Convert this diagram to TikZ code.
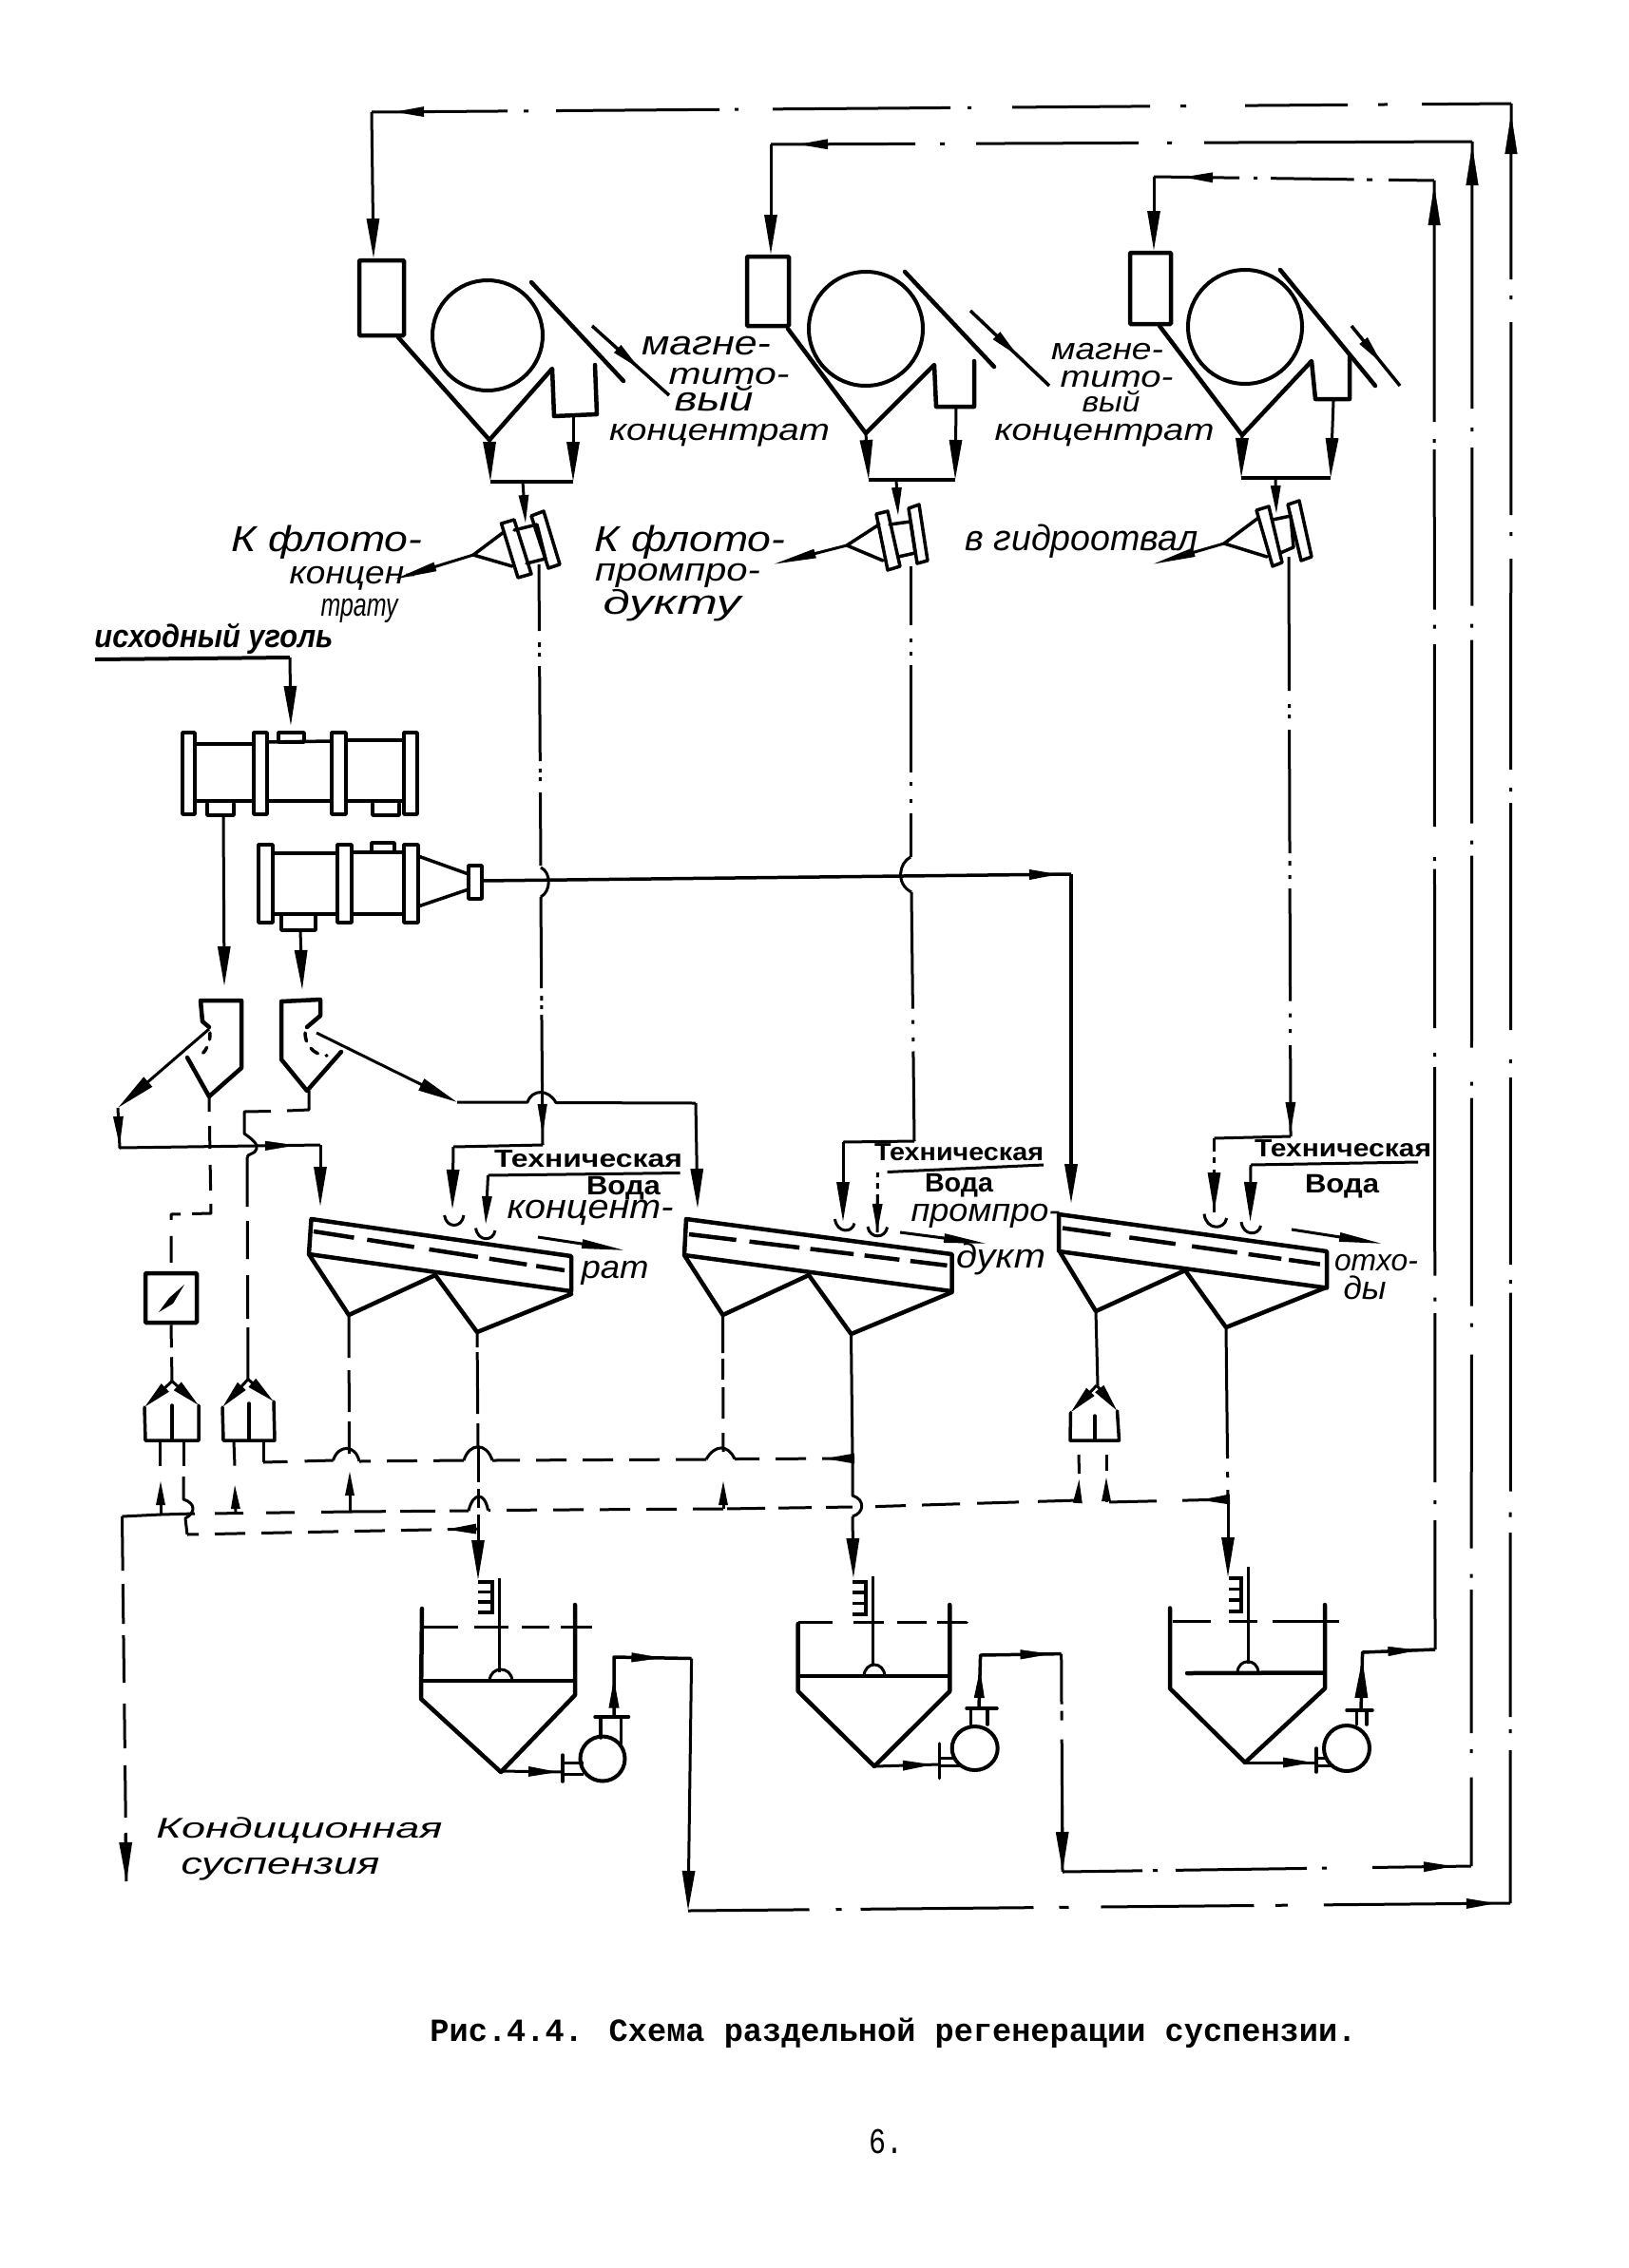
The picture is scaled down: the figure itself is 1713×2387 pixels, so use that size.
\documentclass[tikz,border=0pt]{standalone}
\usepackage{fontspec}
\usepackage{graphicx}
\setmainfont{Liberation Sans}
\newfontfamily\capf{Liberation Mono}
\usetikzlibrary{arrows.meta,decorations.markings,shapes.geometric}
\tikzset{
 eq/.style={line width=4.5pt,line join=round,line cap=round},
 eqt/.style={line width=3.5pt,line join=round,line cap=round},
 ln/.style={line width=3pt,line join=round},
 eqbox/.style={draw,line width=4.5pt,inner sep=0pt,rounded corners=1pt},
 eqcirc/.style={draw,circle,line width=4pt,inner sep=0pt},
 hL/.style={-{Stealth[inset=0pt,length=42pt,width=13pt]}},
 hM/.style={-{Stealth[inset=0pt,length=30pt,width=10pt]}},
 hS/.style={-{Stealth[inset=0pt,length=26pt,width=9pt]}},
 hT/.style={-{Stealth[inset=0pt,length=46pt,width=9pt]}},
 amk/.style={postaction={decorate,decoration={markings,mark=at position #1 with {\arrow{Stealth[inset=0pt,length=32pt,width=10pt]}}}}},
 amL/.style={postaction={decorate,decoration={markings,mark=at position #1 with {\arrow{Stealth[inset=0pt,length=42pt,width=13pt]}}}}},
 dsh2/.style={dash pattern=on 32pt off 17pt},
 txt/.style={inner sep=0pt,anchor=base},
}
% name, x centre, y centre of the x-height band, width, font size, text
\newcommand\hlabel[6]{\node[txt] (#1) at (#2,{#3+0.26*#5}) {\resizebox{#4pt}{\height}{\fontsize{#5pt}{#5pt}\selectfont\itshape #6}};}
\newcommand\blabel[6]{\node[txt] (#1) at (#2,{#3+0.26*#5}) {\resizebox{#4pt}{\height}{\fontsize{#5pt}{#5pt}\selectfont\bfseries #6}};}
\newcommand\rakecomb[4]{% x, ytop, ybottom, xleft
 \draw[line width=3.5pt,line join=miter] (#4,#2) -- (#1,#2) -- (#1,#3) -- (#4,#3);
 \foreach \ff in {0.33,0.66}{\draw[line width=3.5pt] (#4,{#2+(#3-#2)*\ff}) -- (#1,{#2+(#3-#2)*\ff});}
}
\begin{document}
\begin{tikzpicture}[x=1pt,y=-1pt]
\useasboundingbox[fill=white] (0,0) rectangle (1713,2387);
%%% ---------- return lines at the top and right
\coordinate (P3) at (1590,109); \coordinate (P2) at (1549,149); \coordinate (P1) at (1509,190);
\coordinate (T1) at (391,118);  \coordinate (T2) at (811,152);  \coordinate (T3) at (1214,186);
\coordinate (Q3) at (1589,2003); \coordinate (Q2) at (1548,1964); \coordinate (Q1) at (1510,1736);
\draw[ln,dash pattern=on 94pt off 36pt on 10pt off 32pt on 108pt off 62pt on 6pt off 32pt on 145pt off 43pt on 4pt off 18pt on 187pt off 36pt on 4pt off 16pt on 172pt off 29pt on 5pt off 17pt on 143pt,amk=1176pt] (P3) -- (T1);
\draw[ln,dash pattern=on 282pt off 34pt on 5pt off 30pt on 171pt off 33pt on 5pt off 26pt on 152pt,amk=710pt] (P2) -- (T2);
\draw[ln,dash pattern=on 48pt off 17pt on 6pt off 13.5pt on 87.5pt off 14pt on 4pt off 15pt on 90pt,amk=265pt] (P1) -- (T3);
\draw[ln,dash pattern=on 185pt off 17pt on 4pt off 24pt on 203pt off 18pt on 4pt off 24pt on 222pt off 19pt on 4pt off 12pt on 239pt off 31pt on 4pt off 15pt on 197pt off 16pt on 4pt off 9.5pt on 209pt off 22pt on 5pt off 16.5pt on 194pt off 13pt on 4pt off 18pt on 161pt] (P3) -- (Q3);
\draw[ln,dash pattern=on 281pt off 20pt on 4pt off 17pt on 166.5pt off 19pt on 4pt off 13pt on 193pt off 18pt on 4pt off 12pt on 202pt off 36pt on 4pt off 13pt on 219pt off 18pt on 4pt off 29pt on 204pt off 27pt on 4pt off 12.6pt on 151pt off 17pt on 4pt off 25.5pt on 94pt] (P2) -- (Q2);
\draw[ln,dash pattern=on 254pt off 18pt on 4pt off 7pt on 168.5pt off 16pt on 4pt off 16.5pt on 192pt off 32pt on 4pt off 8.6pt on 167.4pt off 26pt on 4pt off 11pt on 219.6pt off 23pt on 4pt off 12.4pt on 178pt off 19pt on 4pt off 17pt on 137.6pt] (P1) -- (Q1);
% up arrows near the top corners
\path[amL=1883pt] (Q3) -- (P3);
\path[amL=1811pt] (Q2) -- (P2);
\path[amL=1541pt] (Q1) -- (P1);
%%% ---------- magnetic separator 1
\coordinate (a1) at (393,272); \coordinate (f1a) at (419,355); \coordinate (f1b) at (515,463);
\coordinate (f1c) at (581,388); \coordinate (f1d) at (583,438); \coordinate (f1e) at (628,436); \coordinate (f1f) at (626,384);
\coordinate (s1a) at (516,507); \coordinate (s1b) at (603,507); \coordinate (s1c) at (603,437);
\coordinate (s1d) at (550,507); \coordinate (s1e) at (553,551);
\node[eqbox,minimum width=47pt,minimum height=79pt] (box1) at (401.5,313.5) {};
\node[eqcirc,minimum size=116pt] (drum1) at (513,353) {};
\draw[ln,hL] (T1) -- (a1);
\draw[eq] (f1a) -- (f1b) -- (f1c) -- (f1d) -- (f1e) -- (f1f);
\draw[eq] (559,297) -- (656,401);
\draw[ln,line width=3.5pt,amk=68pt] (623,343) -- (704,416);
\draw[ln,line width=3.5pt] (s1a) -- (s1b);
\draw[ln,hL] (f1b) -- (s1a);
\draw[ln,hL] (s1c) -- (s1b);
\draw[ln,hM] (s1d) -- (s1e);
\draw[eqt] (527.5,551) -- (541,547) -- (559,604) -- (545,608) -- cycle;
\draw[eqt] (559,543) -- (572,538) -- (589,594) -- (577,598) -- cycle;
\draw[eqt] (541,558) -- (565,552) -- (574,588) -- (554,593);
\draw[eqt] (530,560) -- (498,584) -- (539,596);
\coordinate (k1) at (498,584); \coordinate (k1e) at (414,610);
\draw[ln,hT] (k1) -- (k1e);
%%% ---------- magnetic separator 2
\coordinate (a2) at (811,268); \coordinate (f2a) at (829,346); \coordinate (f2b) at (911,456);
\coordinate (f2c) at (983,384); \coordinate (f2d) at (985,428); \coordinate (f2e) at (1025,428); \coordinate (f2f) at (1025,380);
\coordinate (s2a) at (914,505); \coordinate (s2b) at (1005,505); \coordinate (s2c) at (1006,428);
\coordinate (s2d) at (943,505); \coordinate (s2e) at (945,543);
\node[eqbox,minimum width=44pt,minimum height=73pt] (box2) at (808,306.5) {};
\node[eqcirc,minimum size=120pt] (drum2) at (911,346) {};
\draw[ln,hL] (T2) -- (a2);
\draw[eq] (f2a) -- (f2b) -- (f2c) -- (f2d) -- (f2e) -- (f2f);
\draw[eq] (952,286) -- (1046,386);
\draw[ln,line width=3.5pt,amk=70pt] (1021,327) -- (1104,406);
\draw[ln,line width=3.5pt] (s2a) -- (s2b);
\draw[ln,hL] (f2b) -- (s2a);
\draw[ln,hL] (s2c) -- (s2b);
\draw[ln,hM] (s2d) -- (s2e);
\draw[eqt] (922,541) -- (934,538) -- (947,596) -- (934,600) -- cycle;
\draw[eqt] (956,535) -- (967,531) -- (976,590) -- (965,593) -- cycle;
\draw[eqt] (936,552) -- (958,549) -- (963,582) -- (945,586);
\draw[eqt] (925,552) -- (891,574) -- (929,590);
\coordinate (k2) at (891,574); \coordinate (k2e) at (813,594);
\draw[ln,hT] (k2) -- (k2e);
%%% ---------- magnetic separator 3
\coordinate (a3) at (1214,264); \coordinate (f3a) at (1220,343); \coordinate (f3b) at (1307,458);
\coordinate (f3c) at (1380,380); \coordinate (f3d) at (1384,420); \coordinate (f3e) at (1420,420); \coordinate (f3f) at (1420,375);
\coordinate (s3a) at (1306,503); \coordinate (s3b) at (1400,503); \coordinate (s3c) at (1403,422);
\coordinate (s3d) at (1342,503); \coordinate (s3e) at (1343,541);
\node[eqbox,minimum width=43pt,minimum height=75pt] (box3) at (1210.5,303.5) {};
\node[eqcirc,minimum size=120pt] (drum3) at (1310,344) {};
\draw[ln,hL] (T3) -- (a3);
\draw[eq] (f3a) -- (f3b) -- (f3c) -- (f3d) -- (f3e) -- (f3f);
\draw[eq] (1347,284) -- (1447,406);
\draw[ln,line width=3.5pt,amk=52pt] (1422,343) -- (1473,406);
\draw[ln,line width=3.5pt] (s3a) -- (s3b);
\draw[ln,hL] (f3b) -- (s3a);
\draw[ln,hL] (s3c) -- (s3b);
\draw[ln,hM] (s3d) -- (s3e);
\draw[eqt] (1322,537) -- (1335,533) -- (1349,592) -- (1339,596) -- cycle;
\draw[eqt] (1355,531) -- (1367,527) -- (1380,586) -- (1369,590) -- cycle;
\draw[eqt] (1339,547) -- (1358,543) -- (1361,576) -- (1347,582);
\draw[eqt] (1324,545) -- (1288,572) -- (1333,586);
\coordinate (k3) at (1288,572); \coordinate (k3e) at (1212,594);
\draw[ln,hT] (k3) -- (k3e);
%%% ---------- labels top
\hlabel{m1a}{743}{364}{136}{36}{магне-}
\hlabel{m1b}{767}{396}{127}{32}{тито-}
\hlabel{m1c}{751}{423}{83}{36}{вый}
\hlabel{m1d}{757}{455}{232}{32}{концентрат}
\hlabel{m2a}{1165}{370}{118}{32}{магне-}
\hlabel{m2b}{1175}{399}{119}{32}{тито-}
\hlabel{m2c}{1169}{426}{61}{30}{вый}
\hlabel{m2d}{1162}{455}{231}{32}{концентрат}
\hlabel{l1a}{344}{571}{201}{38}{К флото-}
\hlabel{l1b}{371}{606}{133}{34}{концен-}
\hlabel{l1c}{378}{640}{81}{34}{трату}
\hlabel{l2a}{726}{571}{201}{38}{К флото-}
\hlabel{l2b}{713}{603}{174}{34}{промпро-}
\hlabel{l2c}{707}{637}{145}{36}{дукту}
\hlabel{l3a}{1138}{570}{245}{38}{в гидроотвал}
%%% ---------- feed and mills
\node[txt] (feed) at (225,681) {\resizebox{251pt}{\height}{\fontsize{34pt}{34pt}\selectfont\bfseries\itshape исходный уголь}};
\coordinate (fd0) at (100,694); \coordinate (fd1) at (305,692); \coordinate (fd2) at (306,764);
\draw[ln,line width=4pt] (fd0) -- (fd1);
\draw[ln,hL] (fd1) -- (fd2);
% mill 1
\foreach \xa/\xb in {192/205,267/281,349/364,425/439}{\draw[eqt] (\xa,771) rectangle (\xb,857);}
\draw[eqt] (205,783) -- (267,783); \draw[eqt] (281,781) -- (349,780); \draw[eqt] (364,779) -- (425,779);
\draw[eqt] (205,843) -- (267,843); \draw[eqt] (281,843) -- (349,843); \draw[eqt] (364,843) -- (425,843);
\draw[eqt] (293,781) rectangle (320,771);
\draw[eqt] (218,846) -- (218,858) -- (246,858) -- (246,846);
\draw[eqt] (392,846) -- (392,858) -- (420,858) -- (420,846);
% mill 2
\foreach \xa/\xb in {272/287,355/370,425/440}{\draw[eqt] (\xa,889) rectangle (\xb,971);}
\draw[eqt] (287,898) -- (355,898); \draw[eqt] (370,897) -- (425,897);
\draw[eqt] (287,962) -- (355,962); \draw[eqt] (370,962) -- (425,962);
\draw[eqt] (391,896) -- (391,887) -- (415,887) -- (415,896);
\draw[eqt] (296,964) -- (296,979) -- (332,979) -- (332,964);
\draw[eqt] (440,901) -- (493,920); \draw[eqt] (440,954) -- (493,936);
\draw[eqt] (493,911) rectangle (507,946);
\coordinate (m1o) at (235,858); \coordinate (m1p) at (236,1038);
\coordinate (m2o) at (316,979); \coordinate (m2p) at (318,1042);
\draw[ln,hL] (m1o) -- (m1p);
\draw[ln,hL] (m2o) -- (m2p);
%%% ---------- sieves (drain screens)
\draw[eq] (220,1081) -- (213,1075) -- (211,1053) -- (254,1053) -- (254,1124) -- (220,1154) -- (197,1113);
\draw[eqt,dash pattern=on 7pt off 9pt] (221,1087) .. controls (221,1098) and (218,1104) .. (212,1110);
\draw[eq] (323,1081) -- (337,1069) -- (337,1052) -- (296,1054) -- (296,1115) -- (323,1148) -- (359,1107);
\draw[eqt,dash pattern=on 9pt off 9pt] (321,1087) .. controls (321,1098) and (328,1110) .. (344,1111);
\coordinate (sv1) at (220,1083); \coordinate (v1) at (124,1166); \coordinate (v2) at (126,1208);
\coordinate (v3) at (337,1205); \coordinate (v4) at (337,1270);
\draw[ln,hL] (sv1) -- (v1);
\draw[ln,amk=41pt] (v1) -- (v2) -- (v3);
\path[amk=185pt] (v2) -- (v3);
\draw[ln,hL] (v3) -- (v4);
\coordinate (sv2) at (333,1087); \coordinate (u1) at (481,1160); \coordinate (u2) at (732,1161); \coordinate (u3) at (734,1272);
\draw[ln,hL] (sv2) -- (u1);
\draw[ln] (u1) -- (555,1160) .. controls (560,1146) and (577,1146) .. (585,1160.5) -- (u2);
\draw[ln,hL] (u2) -- (u3);
%%% ---------- densimeter branch (left)
\coordinate (ap1) at (220,1155); \coordinate (dn1) at (222,1277); \coordinate (dn2) at (180,1278);
\node[eqbox,minimum width=54pt,minimum height=52pt] (gauge) at (180,1366) {};
\draw[ln,dash pattern=on 15pt off 15pt on 24pt off 17pt on 27pt off 14pt on 30pt off 12pt on 16pt off 17pt on 28pt off 10pt on 40pt] (ap1) -- (dn1) -- (dn2) -- (gauge.north);
\fill (167,1381) -- (178,1366) -- (194,1352) -- (182,1372) -- cycle;
\coordinate (sp1) at (181,1453.6);
\draw[ln,dash pattern=on 24pt off 10pt on 30pt] (gauge.south) -- (sp1);
\coordinate (ap2) at (325,1148); \coordinate (w1) at (325,1168); \coordinate (w2) at (257,1170); \coordinate (w3) at (257,1193);
\coordinate (w4) at (260,1218); \coordinate (sp2) at (261,1451.6);
\draw[ln] (ap2) -- (w1) -- (302,1169);
\draw[ln] (285,1169.5) -- (w2) -- (w3) .. controls (264,1198) and (272,1204) .. (270,1209) .. controls (269,1215) and (260,1214) .. (w4);
\draw[ln,dash pattern=on 52pt off 15pt on 40pt off 17pt on 46pt off 9pt on 60pt] (w4) -- (sp2);
%%% ---------- lower splitters
\foreach \n/\ax/\ay/\lx/\ly/\rx/\ry/\sL/\sR/\mt in {a/181/1453.6/152/1481/209/1479/153/209/1479, b/261/1451.6/234/1481/288/1475/235/289/1477, c/1154/1458/1126.5/1486.5/1175.5/1485/1126/1177.5/1490}{
  \coordinate (ap\n) at (\ax,\ay);
  \draw[eqt] (\lx,\ly) -- (\sL,1516) -- (\sR,1516) -- (\rx,\ry);
  \draw[eqt] ({(\sL+\sR)/2},\mt) -- ({(\sL+\sR)/2},1516);
  \draw[ln,-{Stealth[inset=0pt,length=30pt,width=11pt]}] (ap\n) -- (\lx,\ly);
  \draw[ln,-{Stealth[inset=0pt,length=30pt,width=11pt]}] (ap\n) -- (\rx,\ry);
}
%%% ---------- ore inlets: vertical lines
\coordinate (d1a) at (567,594); \coordinate (d1b) at (569,913); \coordinate (d1c) at (569,944); \coordinate (d1d) at (571,1205);
\draw[ln,dash pattern=on 70pt off 12pt on 5pt off 6pt on 4pt off 10pt on 100pt off 8pt on 4pt off 5pt on 4pt off 12pt on 77pt] (d1a) -- (d1b);
\draw[ln] (d1b) .. controls (580,918) and (580,938) .. (d1c);
\draw[ln,dash pattern=on 96pt off 8pt on 5pt off 5pt on 4pt off 6pt on 150pt] (d1c) -- (d1d);
\coordinate (d1e) at (477,1207); \coordinate (d1f) at (476,1273);
\path[amk=250pt] (d1c) -- (d1d);
\draw[ln] (d1d) -- (d1e);
\draw[ln,hL] (d1e) -- (d1f);
\coordinate (d2a) at (958,596); \coordinate (d2b) at (958,902); \coordinate (d2c) at (959,939); \coordinate (d2d) at (962,1201);
\draw[ln,dash pattern=on 61.5pt off 14pt on 4pt off 10.5pt on 4pt off 10pt on 113pt off 10pt on 4pt off 14pt on 4pt off 10.5pt on 46.5pt] (d2a) -- (d2b);
\draw[ln] (d2b) .. controls (946,908) and (942,930) .. (d2c);
\draw[ln,dash pattern=on 122.6pt off 12pt on 4pt off 14.4pt on 4pt off 10.5pt on 95pt] (d2c) -- (d2d);
\coordinate (d2e) at (887,1202); \coordinate (d2f) at (887,1286);
\draw[ln] (d2d) -- (d2e);
\draw[ln,hL] (d2e) -- (d2f);
\coordinate (d3a) at (1356,586); \coordinate (d3b) at (1358,1196); \coordinate (d3c) at (1277.5,1198); \coordinate (d3d) at (1277.5,1276);
\draw[ln,dash pattern=on 141pt off 14pt on 4pt off 7pt on 4pt off 12pt on 130pt off 8pt on 5pt off 10pt on 4pt off 10pt on 118.5pt off 13pt on 4pt off 12.5pt on 4pt off 13pt on 96pt,amk=606pt] (d3a) -- (d3b);
\draw[ln] (d3b) -- (d3c);
\draw[ln,dash pattern=on 14pt off 6pt on 6pt off 7pt on 60pt] (d3c) -- (d3d);
\draw[ln,hL] (1277.5,1234) -- (d3d);
%%% ---------- mill 2 overflow
\coordinate (h0) at (507,927); \coordinate (h1) at (1127,920); \coordinate (h2) at (1127,1267);
\draw[ln,line width=3.5pt,amk=608pt] (h0) -- (h1);
\draw[ln,hL,line width=3.5pt] (h1) -- (h2);
%%% ---------- technical water
\coordinate (w1a) at (513.5,1237); \coordinate (w1b) at (715.5,1234.5); \coordinate (w1c) at (511,1289);
\draw[ln] (w1a) -- (w1b); \draw[ln,hM] (w1a) -- (w1c);
\coordinate (w2a) at (923.5,1234); \coordinate (w2b) at (923,1297);
\draw[ln] (933.6,1233.5) -- (1098,1226);
\draw[ln,dash pattern=on 5pt off 6pt on 6pt off 6pt on 50pt] (w2a) -- (w2b);
\draw[ln,hM] (923.3,1258) -- (w2b);
\coordinate (w3a) at (1316,1226); \coordinate (w3b) at (1492,1223); \coordinate (w3c) at (1315.5,1286);
\draw[ln] (w3a) -- (w3b); \draw[ln,hL] (w3a) -- (w3c);
\foreach \qa/\qb/\qc/\qd/\qe in {467.6/1279/1291/488/1279, 500.6/1292.5/1305/521/1295, 878.5/1283/1296/899/1287.5, 913/1291/1302/933.6/1291.5, 1267/1277.6/1293/1290.6/1282, 1306/1286/1299/1326.5/1290}{
  \draw[ln] (\qa,\qb) .. controls ({\qa+2},{\qc+2}) and ({\qd-2},{\qc+2}) .. (\qd,\qe);
}
\blabel{tv1}{619}{1222}{198}{26}{Техническая}
\blabel{wv1}{656}{1250}{78}{28}{Вода}
\hlabel{cn1}{621}{1273}{175}{36}{концент-}
\hlabel{cn2}{647}{1337}{71}{34}{рат}
\blabel{tv2}{1009}{1215}{178}{26}{Техническая}
\blabel{wv2}{1009}{1247}{72}{28}{Вода}
\hlabel{pp1}{1037}{1277}{157}{34}{промпро-}
\hlabel{pp2}{1053}{1325}{94}{36}{дукт}
\blabel{tv3}{1413}{1211}{186}{26}{Техническая}
\blabel{wv3}{1412}{1248}{78}{28}{Вода}
\hlabel{ot1}{1448}{1329}{88}{32}{отхо-}
\hlabel{ot2}{1436}{1359}{45}{34}{ды}
\draw[ln,hT] (566,1302) -- (658,1316);
\draw[ln,hT] (947,1297) -- (1039,1309);
\draw[ln,hT] (1359,1294) -- (1455,1309);
%%% ---------- screens
\draw[eq] (327.5,1283) -- (601,1322) -- (601,1359) -- (325,1320) -- cycle;
\draw[eq,line cap=butt,dash pattern=on 43pt off 14pt on 50pt off 16pt on 52pt off 12pt on 40pt off 10pt on 38pt] (330,1296) -- (594,1337);
\draw[eq] (325,1320) -- (367,1384) -- (458,1342) -- (502,1402) -- (601,1362);
\draw[eq] (722,1283) -- (1001.6,1320) -- (1001.6,1359) -- (720,1321) -- cycle;
\draw[eq,line cap=butt,dash pattern=on 50pt off 14pt on 53pt off 11.5pt on 46pt off 11.5pt on 37pt off 11.5pt on 39pt] (725,1299) -- (998,1332);
\draw[eq] (720,1321) -- (760.5,1384) -- (851,1342) -- (895.5,1404) -- (1001.6,1360);
\draw[eq] (1114,1278) -- (1396,1317) -- (1396,1355.5) -- (1114,1317) -- cycle;
\draw[eq,line cap=butt,dash pattern=on 51pt off 20pt on 49pt off 17.5pt on 48pt off 12pt on 35pt off 8pt on 33pt] (1118,1292.5) -- (1392,1331);
\draw[eq] (1116,1319) -- (1153,1380) -- (1247,1337) -- (1290,1397) -- (1394,1355.5);
%%% ---------- outlets of screens
\coordinate (o1) at (367,1384); \coordinate (o2) at (502,1402); \coordinate (o3) at (760.5,1384);
\coordinate (o4) at (895.5,1404); \coordinate (o5) at (1153,1380); \coordinate (o6) at (1290,1397);
\coordinate (n1) at (368,1548); \coordinate (n1b) at (368,1591);
\draw[ln,dash pattern=on 45pt off 13pt on 44pt off 10pt on 34pt] (o1) -- (367.5,1530);
\draw[ln,hS] (n1b) -- (n1);
\coordinate (n2) at (503,1523); \coordinate (n2b) at (503,1609); \coordinate (n2c) at (503,1663);
\draw[ln,dash pattern=on 16pt off 5pt on 65pt off 10pt on 35pt] (o2) -- (n2);
\draw[ln,dash pattern=on 37pt off 7pt on 20pt off 7pt on 40pt] (n2) -- (n2b);
\draw[ln,hL] (n2b) -- (n2c);
\coordinate (n3) at (761,1528); \coordinate (n3b) at (761,1588); \coordinate (n3c) at (761,1558);
\draw[ln,dash pattern=on 40pt off 6pt on 22pt off 8pt on 33pt off 15pt on 24pt] (o3) -- (n3);
\draw[ln,hS] (n3b) -- (n3c);
\coordinate (n4) at (897,1535); \coordinate (n4b) at (897,1574); \coordinate (n4c) at (897,1596); \coordinate (n4d) at (898,1661);
\draw[ln] (o4) -- (n4) -- (n4b) .. controls (910,1578) and (910,1592) .. (n4c);
\draw[ln,hL] (n4c) -- (n4d);
\coordinate (n5) at (1155,1458);
\draw[ln] (o5) -- (n5);
\coordinate (n6) at (1292,1535); \coordinate (n6b) at (1292,1578); \coordinate (n6c) at (1292,1660);
\draw[ln,dash pattern=on 138pt off 14pt on 6pt off 13pt on 200pt] (o6) -- (n6b);
\draw[ln,hL] (n6b) -- (n6c);
%%% ---------- lines A, B and C
\draw[ln,dsh2,amk=30pt] (n4) -- (773,1535.5);
\draw[ln] (773,1535.5) .. controls (766,1520) and (752,1520) .. (743,1536);
\draw[ln,dsh2] (743,1536) -- (518,1537);
\draw[ln] (518,1537) .. controls (512,1518) and (494,1518) .. (488,1537);
\draw[ln,dsh2] (488,1537) -- (378,1538);
\draw[ln] (378,1538) .. controls (374,1520) and (356,1520) .. (350.5,1537);
\coordinate (la) at (277,1539); \coordinate (lb) at (277,1517);
\draw[ln,dash pattern=on 30pt off 18pt on 26pt] (350.5,1537) -- (la);
\draw[ln] (la) -- (lb);
\coordinate (b0) at (1292,1578); \coordinate (b1) at (1164,1581); \coordinate (b2) at (1164,1554); \coordinate (b3) at (1164,1531);
\draw[ln,dash pattern=on 48pt off 27pt on 50pt,amk=30pt] (b0) -- (b1);
\draw[ln,hS] (b1) -- (b2);
\draw[ln] (b3) -- (1164,1548);
\coordinate (b4) at (1134,1579); \coordinate (b5) at (1135.5,1556); \coordinate (b6) at (1135,1531);
\draw[ln,hS] (b4) -- (b5);
\draw[ln] (b6) -- (1135.5,1551);
\draw[ln,dash pattern=on 42pt off 20pt on 44pt off 18pt on 30pt off 9pt] (b4) -- (1002,1583);
\draw[ln,dsh2] (1002,1583) -- (908,1586);
\draw[ln,dash pattern=on 28pt off 15pt on 35pt off 14pt on 40pt off 10pt on 20pt] (897,1586) -- (761,1588);
\draw[ln,dsh2] (761,1588) -- (513.5,1589.5);
\draw[ln] (513.5,1589.5) .. controls (510,1570) and (498,1570) .. (493,1590);
\draw[ln,dash pattern=on 20pt off 15pt on 37pt off 15pt on 38pt] (493,1590) -- (368,1591);
\coordinate (b7) at (169,1594); \coordinate (b8) at (128.5,1596); \coordinate (b9) at (133,1981);
\draw[ln,dash pattern=on 30pt off 28pt on 30pt off 24pt] (368,1591) -- (218.6,1593);
\draw[ln] (205,1593) -- (b7) -- (b8);
\draw[ln,dash pattern=on 57pt off 14pt on 42pt off 12pt on 50pt off 22pt on 47pt off 18pt on 55pt off 16pt on 51pt] (b8) -- (b9);
\draw[ln,hL] (132,1930) -- (b9);
\coordinate (c0) at (503,1609); \coordinate (c1) at (197,1615); \coordinate (c2) at (195,1598); \coordinate (c3) at (193,1578); \coordinate (c4) at (193,1554);
\draw[ln,dsh2,amk=34pt] (c0) -- (c1);
\draw[ln] (c1) -- (c2) .. controls (206,1592) and (206,1582) .. (c3) -- (c4);
\draw[ln] (193,1542.6) -- (193,1517);
\draw[ln] (168,1542.6) -- (168,1517);
\draw[ln,hS] (b7) -- (169,1558);
\draw[ln] (247,1542.6) -- (246,1517);
\draw[ln,hS] (248,1592) -- (247,1562);
%%% ---------- thickeners
% 1
\draw[eq] (444,1693) -- (443,1788) -- (527,1865) -- (605,1784) -- (605,1689);
\draw[eqt] (444,1769) -- (605,1769);
\draw[ln,dash pattern=on 38pt off 17pt on 36pt off 14pt on 29pt off 12pt on 33pt] (444,1712) -- (623,1712) -- (623,1689);
\draw[ln] (525,1661) -- (525,1760);
\draw[ln] (515,1769) .. controls (516,1753) and (538,1753) .. (539,1769);
\rakecomb{518}{1665}{1697}{503}
% 2
\draw[eq] (839.7,1709) -- (839.7,1780) -- (920,1859) -- (999.3,1780) -- (999.3,1689);
\draw[eqt] (840,1764) -- (999,1764);
\draw[ln,dash pattern=on 36pt off 22pt on 32pt off 13.5pt on 31.5pt off 11pt on 31pt] (840,1707) -- (1017,1707) -- (1017,1689);
\draw[ln] (918,1659) -- (918,1752);
\draw[ln] (909,1764) .. controls (910,1748) and (930,1748) .. (931,1764);
\rakecomb{911}{1665}{1699}{897}
% 3
\draw[eq] (1231,1692.5) -- (1231,1777) -- (1310,1855) -- (1394,1777) -- (1394,1689);
\draw[eq] (1249,1761) -- (1392.5,1760.5);
\draw[ln,dash pattern=on 40pt off 19pt on 30pt off 15.5pt on 70.5pt] (1234,1706) -- (1409,1706) -- (1409,1689);
\draw[ln] (1313,1649) -- (1313,1750.5);
\draw[ln] (1302,1760) .. controls (1303,1745) and (1323,1745) .. (1324,1760);
\rakecomb{1306}{1661}{1696}{1293}
%%% ---------- pumps
\coordinate (ex1) at (527,1864); \coordinate (fl1) at (592,1865);
\coordinate (ex2) at (920,1859); \coordinate (fl2) at (987.5,1857);
\coordinate (ex3) at (1310,1855); \coordinate (fl3) at (1385,1855);
\node[eqcirc,minimum size=47pt] (pu1) at (634,1851) {};
\node[draw,ellipse,line width=4pt,inner sep=0pt,minimum width=48pt,minimum height=46pt] (pu2) at (1025.7,1840) {};
\node[draw,ellipse,line width=4pt,inner sep=0pt,minimum width=48pt,minimum height=48pt] (pu3) at (1417,1840) {};
\draw[ln,amk=61pt] (ex1) -- (fl1);
\draw[ln,amk=62pt] (ex2) -- (fl2);
\draw[ln,amk=72pt] (ex3) -- (fl3);
\draw[eqt] (592,1847) -- (592,1875); \draw[ln] (592,1855) -- (614,1855); \draw[ln] (592,1867) -- (614,1867);
\draw[eqt] (632,1829) -- (632,1807); \draw[eqt] (653.6,1835) -- (653.6,1807); \draw[eqt] (626,1807) -- (661.5,1807);
\draw[eqt] (988.7,1835) -- (988.7,1871.6); \draw[ln] (988.7,1850) -- (1005,1850); \draw[ln] (988.7,1858) -- (1011,1858);
\draw[eqt] (1021.6,1815) -- (1021.6,1798.6); \draw[eqt] (1039,1815) -- (1039,1798.6); \draw[eqt] (1017,1798) -- (1049,1798);
\draw[eqt] (1385,1840) -- (1385,1865); \draw[ln] (1385,1850) -- (1396,1850); \draw[ln] (1385,1858) -- (1400,1858);
\draw[eqt] (1427.7,1815) -- (1427.7,1800); \draw[eqt] (1438,1815) -- (1438,1800); \draw[eqt] (1417,1800) -- (1444,1800);
\coordinate (r1a) at (646,1805.5); \coordinate (r1b) at (646,1744); \coordinate (r1c) at (727.6,1745.5); \coordinate (r1d) at (724,2011);
\draw[ln,line width=3.5pt,amk=40pt] (r1a) -- (r1b) -- (r1c);
\path[amk=112pt] (r1a) -- (r1b) -- (r1c);
\draw[ln,hL] (r1c) -- (r1d);
\draw[ln,dash pattern=on 127.5pt off 28pt on 6pt off 20pt on 182pt off 27pt on 10pt off 34pt on 161pt off 22.5pt on 13pt off 38pt on 196.5pt,amk=851pt] (r1d) -- (Q3);
\coordinate (r2a) at (1030,1798); \coordinate (r2b) at (1031.6,1742); \coordinate (r2c) at (1116.7,1740.6); \coordinate (r2d) at (1118,1970);
\draw[ln,line width=3.5pt,amk=43pt] (r2a) -- (r2b) -- (r2c);
\path[amk=130pt] (r2a) -- (r2b) -- (r2c);
\draw[ln,dash pattern=on 53pt off 7pt on 10pt off 20pt on 140pt] (r2c) -- (r2d);
\draw[ln,hL] (1117.5,1900) -- (r2d);
\draw[ln,dash pattern=on 84pt off 11pt on 5pt off 19pt on 138pt off 16pt on 5pt off 48pt on 104pt,amk=412pt] (r2d) -- (Q2);
\coordinate (r3a) at (1432,1800); \coordinate (r3b) at (1433.6,1739);
\draw[ln,line width=3.5pt,amL=55pt] (r3a) -- (r3b) -- (Q1);
\path[amk=120pt] (r3a) -- (r3b) -- (Q1);
%%% ---------- bottom text
\hlabel{cs1}{315}{1927}{301}{30}{Кондиционная}
\hlabel{cs2}{295}{1964}{209}{32}{суспензия}
\node[txt] (cap) at (940,2148) {\resizebox{975pt}{\height}{\fontsize{34pt}{34pt}\selectfont\capf\bfseries Рис.4.4. Схема раздельной регенерации суспензии.}};
\node[txt] (pg) at (932,2266) {\resizebox{36pt}{\height}{\fontsize{38pt}{38pt}\selectfont\capf 6.}};
\end{tikzpicture}
\end{document}
